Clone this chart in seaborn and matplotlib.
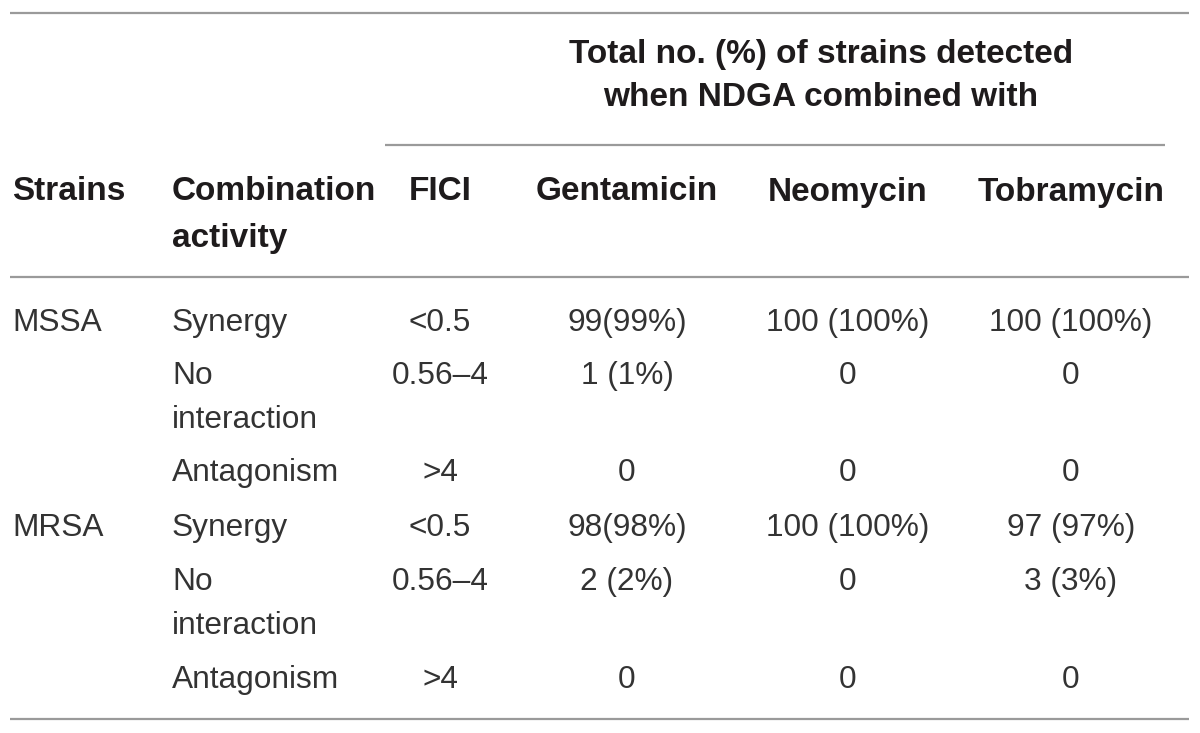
import matplotlib
matplotlib.use("Agg")
import matplotlib.pyplot as plt
import seaborn as sns

# dados da tabela
cepas = ["MSSA", "", "", "MRSA", "", ""]
atividade = ["Synergy", "No\ninteraction", "Antagonism",
             "Synergy", "No\ninteraction", "Antagonism"]
fici = ["<0.5", "0.56–4", ">4", "<0.5", "0.56–4", ">4"]
gentamicina = ["99(99%)", "1 (1%)", "0", "98(98%)", "2 (2%)", "0"]
neomicina = ["100 (100%)", "0", "0", "100 (100%)", "0", "0"]
tobramicina = ["100 (100%)", "0", "0", "97 (97%)", "3 (3%)", "0"]

titulo_grupo = ["Total no. (%) of strains detected", "when NDGA combined with"]
cabecalhos = ["Strains", "Combination\nactivity", "FICI",
              "Gentamicin", "Neomycin", "Tobramycin"]

sns.set_theme(style="white")
plt.rcParams["font.family"] = ["Liberation Sans", "DejaVu Sans"]

fig = plt.figure(figsize=(12, 7.33), dpi=100)
ax = fig.add_axes([0, 0, 1, 1])
ax.set_xlim(0, 1200)
ax.set_ylim(733, 0)
ax.axis("off")

cor_linha = "#9a9a9a"
cor_bold = "#1e1b1c"
cor_txt = "#333333"
fs_b = 24
fs = 22.8

# linhas horizontais
ax.hlines([13, 277, 719], 10, 1189, color=cor_linha, lw=1.6)
ax.hlines(145, 385, 1165, color=cor_linha, lw=1.6)

# cabecalho agrupado
ax.text(821, 55, titulo_grupo[0], ha="center", va="center", fontsize=fs_b,
        fontweight="bold", color=cor_bold)
ax.text(821, 98, titulo_grupo[1], ha="center", va="center", fontsize=fs_b,
        fontweight="bold", color=cor_bold)

# cabecalhos das colunas
ax.text(12, 192, cabecalhos[0], ha="left", va="center", fontsize=fs_b,
        fontweight="bold", color=cor_bold)
ax.text(172, 192, cabecalhos[1].split("\n")[0], ha="left", va="center",
        fontsize=fs_b, fontweight="bold", color=cor_bold)
ax.text(172, 238, cabecalhos[1].split("\n")[1], ha="left", va="center",
        fontsize=fs_b, fontweight="bold", color=cor_bold)
ax.text(409, 192, cabecalhos[2], ha="left", va="center", fontsize=fs_b,
        fontweight="bold", color=cor_bold)
centros = [627, 848, 1071]
for xc, h in zip(centros, cabecalhos[3:]):
    ax.text(xc, 192, h, ha="center", va="center", fontsize=fs_b,
            fontweight="bold", color=cor_bold)

# linhas de dados
y_linhas = [323, 376, 473, 528, 582, 680]
for i, y in enumerate(y_linhas):
    ax.text(12, y, cepas[i], ha="left", va="center", fontsize=fs, color=cor_txt)
    partes = atividade[i].split("\n")
    ax.text(172, y, partes[0], ha="left", va="center", fontsize=fs, color=cor_txt)
    if len(partes) > 1:
        ax.text(172, y + 44, partes[1], ha="left", va="center", fontsize=fs,
                color=cor_txt)
    ax.text(440, y, fici[i], ha="center", va="center", fontsize=fs, color=cor_txt)
    for xc, col in zip(centros, [gentamicina, neomicina, tobramicina]):
        ax.text(xc, y, col[i], ha="center", va="center", fontsize=fs,
                color=cor_txt)

fig.savefig("out.png", dpi=100, facecolor="white")
